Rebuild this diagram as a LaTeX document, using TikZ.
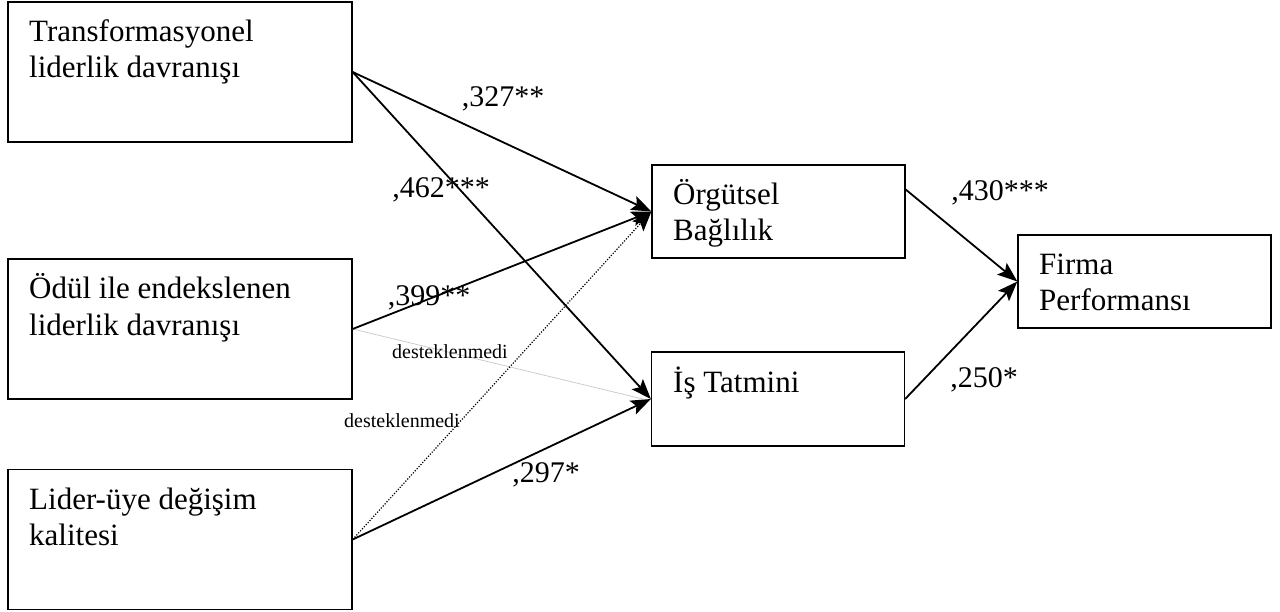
\documentclass[tikz,border=0pt]{standalone}
\usepackage{fontspec}
\setmainfont{Liberation Serif}
\usetikzlibrary{arrows.meta}
\newcommand\twoln[2]{\vtop{\hbox{\strut #1}\hbox{\strut #2}}}
\begin{document}
\begin{tikzpicture}[x=1pt,y=-1pt,
  box/.style={draw, line width=1.3pt, inner sep=0pt, minimum width=344pt, minimum height=140pt},
  rbox/.style={draw, line width=1.3pt, inner sep=0pt, minimum width=253pt, minimum height=93pt},
  btext/.style={anchor=base west, inner sep=0pt, font=\fontsize{31}{36}\selectfont},
  coef/.style={inner sep=0pt, font=\fontsize{30}{36}\selectfont},
  small/.style={inner sep=0pt, font=\fontsize{20}{24}\selectfont},
  tip/.style={-{Stealth[length=20pt,width=15pt,inset=4pt]}},
  arr/.style={line width=1.8pt, tip},
  grayline/.style={line width=0.7pt, draw=black!22},
  dotarr/.style={line width=1.2pt, dash pattern=on 1.2pt off 1.6pt, tip}
]
\useasboundingbox (0,0) rectangle (1280,612);
% boxes
\node[box] (tl) at (180,72) {};
\node[box] (od) at (180,329) {};
\node[box] (lu) at (180,539.5) {};
\node[rbox] (ob) at (778.5,211.5) {};
\node[rbox, minimum height=94pt] (it) at (778,399) {};
\node[rbox] (fp) at (1144.5,281.5) {};
% box texts
\node[btext] (tlt) at (29,42) {\twoln{Transformasyonel}{liderlik davranışı}};
\node[btext] (odt) at (29,299) {\twoln{Ödül ile endekslenen}{liderlik davranışı}};
\node[btext] (lut) at (29,509) {\twoln{Lider-üye değişim}{kalitesi}};
\node[btext] (obt) at (673,205) {\twoln{Örgütsel}{Bağlılık}};
\node[btext] (itt) at (673,392) {İş Tatmini};
\node[btext] (fpt) at (1039,275) {\twoln{Firma}{Performansı}};
% connectors
\coordinate (obout) at ([yshift=22pt]ob.east);
\draw[grayline] (od.east) -- ([xshift=-8pt]it.west);
\draw[dotarr] (lu.east) -- (ob.west);
\draw[arr] (tl.east) -- (ob.west);
\draw[arr] (tl.east) -- (it.west);
\draw[arr] (od.east) -- (ob.west);
\draw[arr] (lu.east) -- (it.west);
\draw[arr] (obout) -- (fp.west);
\draw[arr] (it.east) -- (fp.west);
% labels
\node[coef] (c1) at (503,99) {,327**};
\node[coef] (c2) at (441,190) {,462***};
\node[coef] (c3) at (429,298) {,399**};
\node[small] (d1) at (450,352) {desteklenmedi};
\node[small] (d2) at (402,421) {desteklenmedi};
\node[coef] (c4) at (546,475) {,297*};
\node[coef] (c5) at (1000,193) {,430***};
\node[coef] (c6) at (984,380) {,250*};
\end{tikzpicture}
\end{document}
